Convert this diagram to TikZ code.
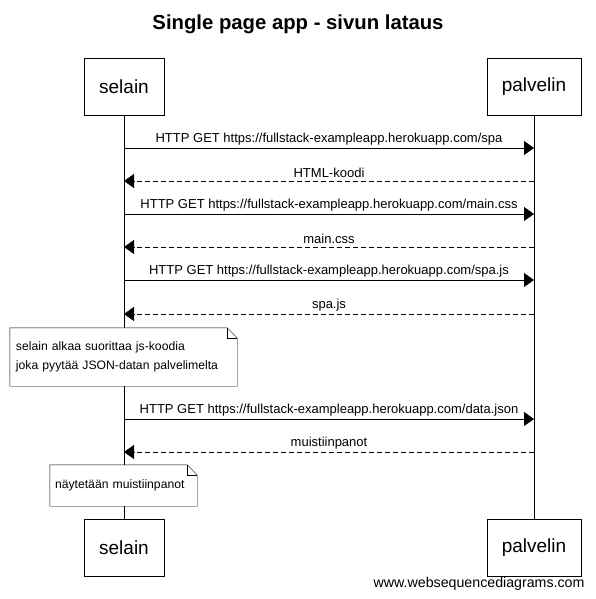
\documentclass[tikz,border=0pt]{standalone}
\usepackage{fontspec}
\setmainfont{Liberation Sans}
\usetikzlibrary{arrows.meta}
\tikzset{
  actor/.style={draw, fill=white, minimum width=80pt, minimum height=57pt, font=\fontsize{19}{22}\selectfont},
  msg/.style={-{Triangle[length=10pt,width=14pt]}},
  reply/.style={msg, dash pattern=on 5pt off 3pt},
  lbl/.style={font=\fontsize{13}{15}\selectfont, inner sep=1pt},
  note/.style={fill=white, align=left, font=\fontsize{12.2}{19}\selectfont, inner sep=0pt}
}
\begin{document}
\begin{tikzpicture}[x=1pt,y=-1pt]
\useasboundingbox (0,0) rectangle (596,599);
\node[font=\fontsize{20.3}{24}\bfseries] (title) at (298,24){Single page app - sivun lataus};
% osallistujat
\node[actor] (sel0) at (124,86.5){selain};
\node[actor, minimum width=94pt] (pal0) at (534,86.5){palvelin};
\node[actor] (sel1) at (124,547.5){selain};
\node[actor, minimum width=94pt] (pal1) at (534,547.5){palvelin};
\draw[](sel0) -- (sel1);
\draw[](pal0) -- (pal1);
% viestit
\coordinate (s1) at (124,148); \coordinate (p1) at (534,148);
\coordinate (s2) at (124,181); \coordinate (p2) at (534,181);
\coordinate (s3) at (124,214); \coordinate (p3) at (534,214);
\coordinate (s4) at (124,247); \coordinate (p4) at (534,247);
\coordinate (s5) at (124,280); \coordinate (p5) at (534,280);
\coordinate (s6) at (124,314); \coordinate (p6) at (534,314);
\coordinate (s7) at (124,419); \coordinate (p7) at (534,419);
\coordinate (s8) at (124,452); \coordinate (p8) at (534,452);
\draw[msg](s1) -- node[lbl, above=2pt]{HTTP GET https://fullstack-exampleapp.herokuapp.com/spa} (p1);
\draw[reply](p2) -- node[lbl, above=2pt]{HTML-koodi} (s2);
\draw[msg](s3) -- node[lbl, above=2pt]{HTTP GET https://fullstack-exampleapp.herokuapp.com/main.css} (p3);
\draw[reply](p4) -- node[lbl, above=2pt]{main.css} (s4);
\draw[msg](s5) -- node[lbl, above=2pt]{HTTP GET https://fullstack-exampleapp.herokuapp.com/spa.js} (p5);
\draw[reply](p6) -- node[lbl, above=2pt]{spa.js} (s6);
\draw[msg](s7) -- node[lbl, above=2pt]{HTTP GET https://fullstack-exampleapp.herokuapp.com/data.json} (p7);
\draw[reply](p8) -- node[lbl, above=2pt]{muistiinpanot} (s8);
% huomautukset
\node[note, minimum width=227pt, minimum height=58pt, text width=215pt] (note1) at (123.5,357){selain alkaa suorittaa js-koodia\\joka pyytää JSON-datan palvelimelta};
\draw (note1.south west) -- (note1.north west) -- ([xshift=-10pt]note1.north east) -- ([yshift=-10pt]note1.north east) -- (note1.south east) -- cycle;
\draw ([xshift=-10pt]note1.north east) -- ([xshift=-10pt,yshift=-10pt]note1.north east) -- ([yshift=-10pt]note1.north east);
\node[note, minimum width=147pt, minimum height=41pt, text width=137pt] (note2) at (123.5,485.5){näytetään muistiinpanot};
\draw (note2.south west) -- (note2.north west) -- ([xshift=-10pt]note2.north east) -- ([yshift=-10pt]note2.north east) -- (note2.south east) -- cycle;
\draw ([xshift=-10pt]note2.north east) -- ([xshift=-10pt,yshift=-10pt]note2.north east) -- ([yshift=-10pt]note2.north east);
\node[font=\fontsize{14.2}{16}\selectfont, anchor=east] (wsd) at (588,584){www.websequencediagrams.com};
\end{tikzpicture}
\end{document}
